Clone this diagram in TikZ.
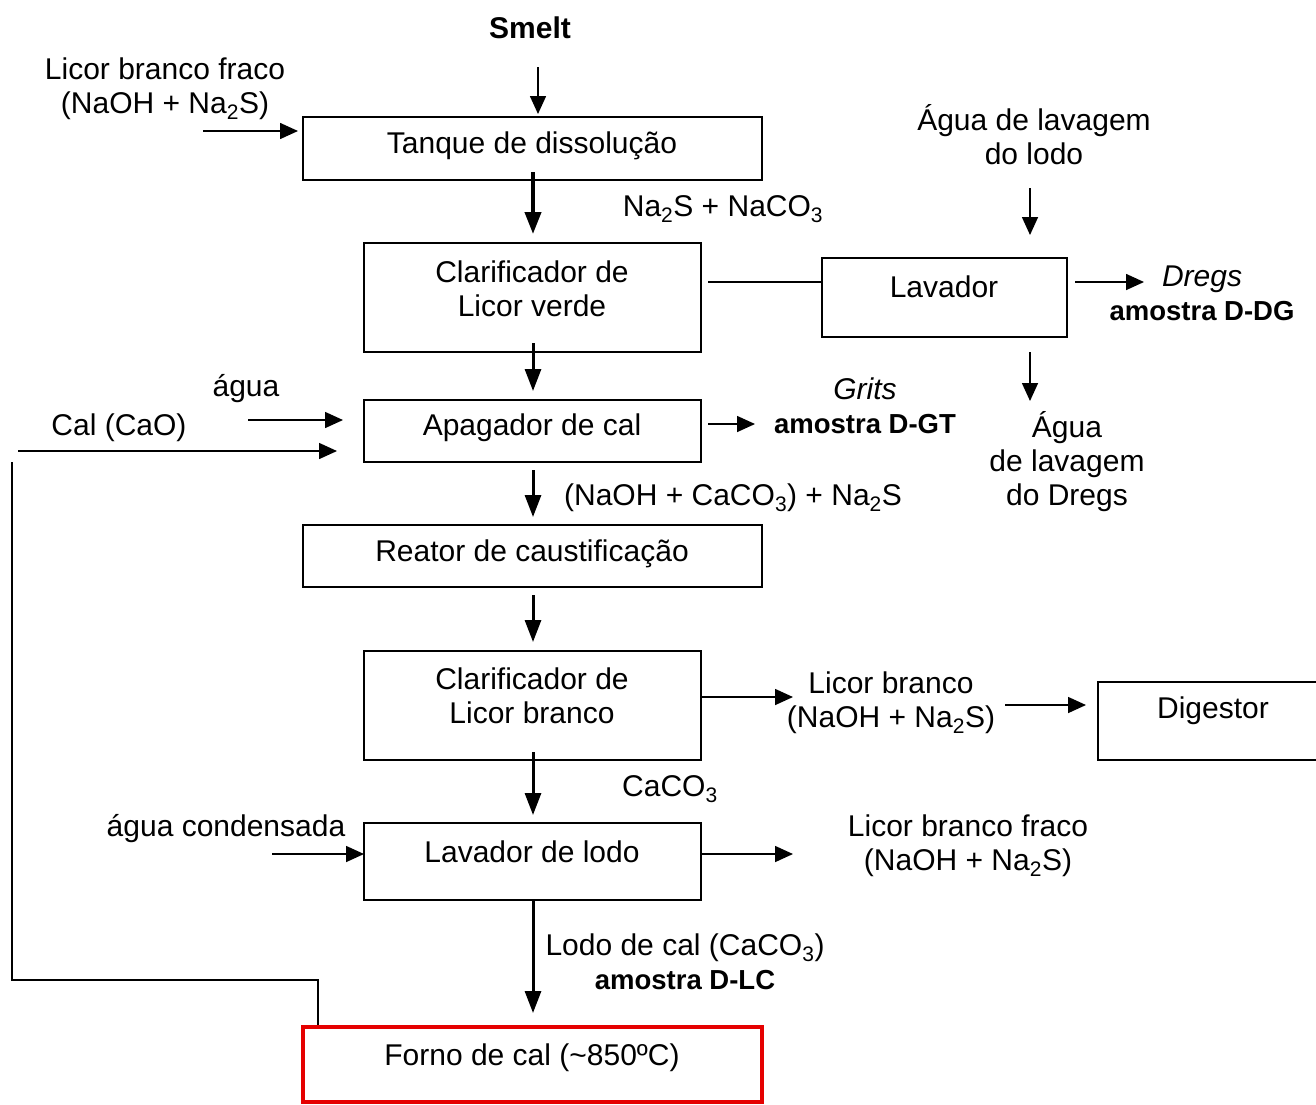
\documentclass[tikz,border=0pt]{standalone}
\usepackage{fontspec}
\setmainfont{Liberation Sans}
\usetikzlibrary{arrows.meta}
\newcommand{\sbs}[1]{\textsubscript{#1}}
\newcommand{\amo}[1]{{\fontsize{27.5}{34}\selectfont\bfseries #1}}
\tikzset{
  box/.style={draw, line width=1.8pt, inner sep=0pt, minimum width=#1},
  redbox/.style={draw=red!90!black, line width=4pt, inner sep=0pt, minimum width=#1},
  lbl/.style={font=\fontsize{30}{34}\selectfont, align=center, inner sep=0pt},
  arr/.style={-{Triangle[length=18pt,width=16pt]}, line width=1.6pt},
  thk/.style={-{Triangle[length=22pt,width=16pt]}, line width=3pt},
  plain/.style={line width=1.4pt},
}
\begin{document}
\begin{tikzpicture}[x=1pt,y=-1pt]
\useasboundingbox (0,0) rectangle (1316,1104);
% boxes
\node[box=459pt, minimum height=63pt] (tanque) at (532.5,148.5) {};
\node[box=337pt, minimum height=109pt] (clarv) at (532.5,297.5) {};
\node[box=245pt, minimum height=79pt] (lavador) at (944.5,297.5) {};
\node[box=337pt, minimum height=62pt] (apag) at (532.5,431) {};
\node[box=459pt, minimum height=62pt] (reator) at (532.5,556) {};
\node[box=337pt, minimum height=109pt] (clarb) at (532.5,705.5) {};
\node[box=240pt, minimum height=78pt] (digestor) at (1218,721) {};
\node[box=337pt, minimum height=77pt] (lodo) at (532.5,861.5) {};
\node[redbox=459pt, minimum height=75pt] (forno) at (532.5,1064.5) {};
% texts
\node[lbl, font=\fontsize{30}{34}\selectfont\bfseries] (tsmelt) at (530,28) {Smelt};
\node[lbl] (tlbf1) at (165,89) {Licor branco fraco\\(NaOH + Na\sbs{2}S)};
\node[lbl] (ttanque) at (532,146) {Tanque de dissolução};
\node[lbl] (tna2s) at (723,209) {Na\sbs{2}S + NaCO\sbs{3}};
\node[lbl] (tclarv) at (532,289) {Clarificador de\\Licor verde};
\node[lbl] (taglodo) at (1034,135) {Água de lavagem\\do lodo};
\node[lbl] (tlavador) at (944,287) {Lavador};
\node[lbl] (tdregs) at (1202,293) {\textit{Dregs}\\\amo{amostra D-DG}};
\node[lbl] (tgrits) at (865,406) {\textit{Grits}\\\amo{amostra D-GT}};
\node[lbl] (tagua) at (246,389) {água};
\node[lbl] (tcal) at (119,428) {Cal (CaO)};
\node[lbl] (tapag) at (532,428) {Apagador de cal};
\node[lbl] (tagdregs) at (1067,462) {Água\\de lavagem\\do Dregs};
\node[lbl] (tnaoh) at (733,498) {(NaOH + CaCO\sbs{3}) + Na\sbs{2}S};
\node[lbl] (treator) at (532,554) {Reator de caustificação};
\node[lbl] (tclarb) at (532,696) {Clarificador de\\Licor branco};
\node[lbl] (tlb) at (891,703) {Licor branco\\(NaOH + Na\sbs{2}S)};
\node[lbl] (tdigestor) at (1213,711) {Digestor};
\node[lbl] (tcaco) at (670,789) {CaCO\sbs{3}};
\node[lbl] (tagcond) at (226,829) {água condensada};
\node[lbl] (tlodo) at (532,852) {Lavador de lodo};
\node[lbl] (tlbf2) at (968,846) {Licor branco fraco\\(NaOH + Na\sbs{2}S)};
\node[lbl] (tlodocal) at (685,962) {Lodo de cal (CaCO\sbs{3})\\\amo{amostra D-LC}};
\node[lbl] (tforno) at (532,1058) {Forno de cal (\textasciitilde850ºC)};
% coordinates
\coordinate (a1s) at (538,67);   \coordinate (a1e) at (538,114);
\coordinate (a2s) at (203,131);  \coordinate (a2e) at (298,131);
\coordinate (a3s) at (533,172);  \coordinate (a3e) at (533,234);
\coordinate (c1)  at (708,282);
\coordinate (a4s) at (1030,188); \coordinate (a4e) at (1030,235);
\coordinate (a5s) at (1075,282); \coordinate (a5e) at (1144,282);
\coordinate (a6s) at (1030,352); \coordinate (a6e) at (1030,401);
\coordinate (a7s) at (533,343);  \coordinate (a7e) at (533,391);
\coordinate (a8s) at (248,420);  \coordinate (a8e) at (343,420);
\coordinate (a9s) at (18,451);   \coordinate (a9e) at (337,451);
\coordinate (a10s) at (708,424); \coordinate (a10e) at (755,424);
\coordinate (a11s) at (533,470); \coordinate (a11e) at (533,517);
\coordinate (a12s) at (533,595); \coordinate (a12e) at (533,642);
\coordinate (a13s) at (701,697); \coordinate (a13e) at (793,697);
\coordinate (a14s) at (1005,705);\coordinate (a14e) at (1086,705);
\coordinate (a15s) at (533,752); \coordinate (a15e) at (533,815);
\coordinate (a16s) at (272,854); \coordinate (a16e) at (364,854);
\coordinate (a17s) at (701,854); \coordinate (a17e) at (793,854);
\coordinate (a18s) at (533,900); \coordinate (a18e) at (533,1013);
\coordinate (fb) at (12,462);    \coordinate (fbc) at (318,980);
% connectors
\draw[arr] (a1s) -- (a1e);
\draw[arr] (a2s) -- (a2e);
\draw[thk, line width=4pt] (a3s) -- (a3e);
\draw[plain] (c1) -- (c1 -| lavador.west);
\draw[arr] (a4s) -- (a4e);
\draw[arr] (a5s) -- (a5e);
\draw[arr] (a6s) -- (a6e);
\draw[thk] (a7s) -- (a7e);
\draw[arr] (a8s) -- (a8e);
\draw[arr] (a9s) -- (a9e);
\draw[arr] (a10s) -- (a10e);
\draw[thk] (a11s) -- (a11e);
\draw[thk] (a12s) -- (a12e);
\draw[arr] (a13s) -- (a13e);
\draw[arr] (a14s) -- (a14e);
\draw[thk] (a15s) -- (a15e);
\draw[arr] (a16s) -- (a16e);
\draw[arr] (a17s) -- (a17e);
\draw[thk] (a18s) -- (a18e);
\draw[plain] (fb) |- (fbc) -- (fbc |- forno.north);
\end{tikzpicture}
\end{document}
